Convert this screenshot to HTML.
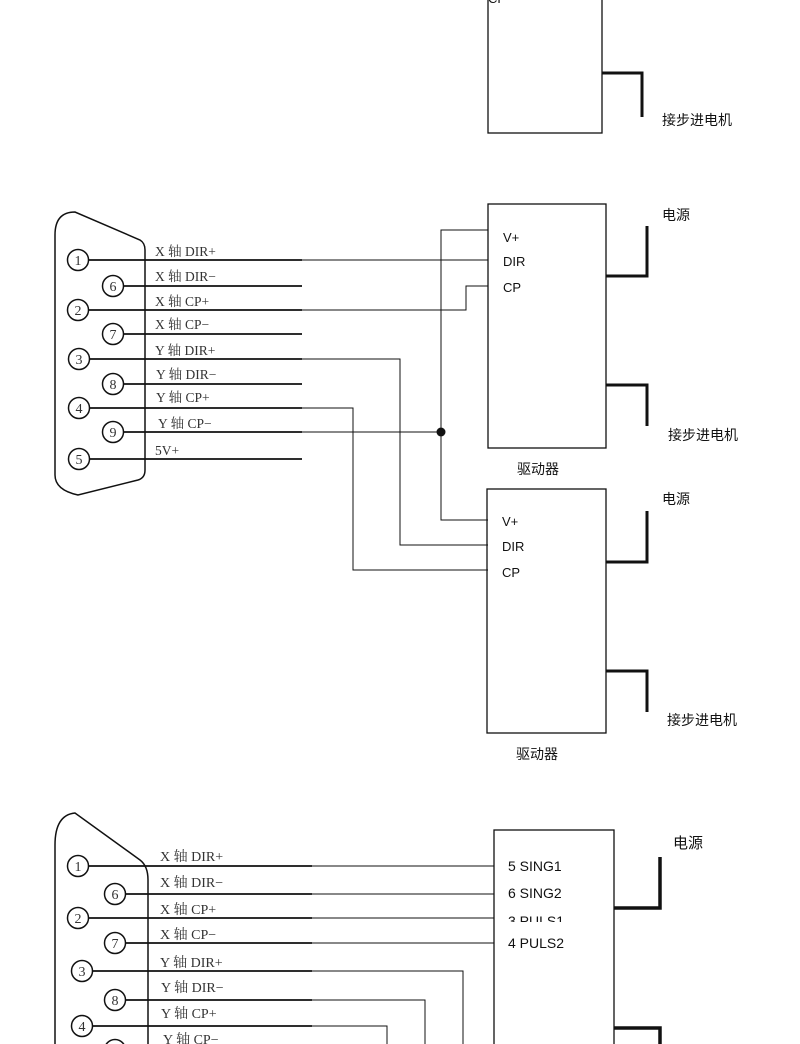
<!DOCTYPE html>
<html><head><meta charset="utf-8"><style>
html,body{margin:0;padding:0;background:#fff;width:800px;height:1044px;overflow:hidden}
svg text{font-family:"Liberation Serif","Noto Serif CJK SC",serif;fill:#333}
.s{font-family:"Liberation Sans","Noto Sans CJK SC",sans-serif!important;fill:#111}
</style></head><body>
<svg width="800" height="1044" viewBox="0 0 800 1044" xmlns="http://www.w3.org/2000/svg">
<g fill="none" stroke="#111">
<rect x="488" y="-5" width="114" height="138" stroke-width="1.3"/>
<polyline points="602,73 642,73 642,117" stroke-width="3"/>
</g>
<text x="488" y="3" class="s" font-size="13">CP</text>
<text x="662" y="125" class="s" font-size="14" fill="#444">接步进电机</text>

<g fill="none" stroke="#111">
<path d="M55,235 Q55,212 75,212 L140,240 Q145,243 145,250 L145,470 Q145,478 138,480 L78,495 Q55,490 55,475 Z" stroke-width="1.5"/>
<g stroke-width="1.5">
<circle cx="78" cy="260" r="10.5"/><circle cx="113" cy="286" r="10.5"/>
<circle cx="78" cy="310" r="10.5"/><circle cx="113" cy="334" r="10.5"/>
<circle cx="79" cy="359" r="10.5"/><circle cx="113" cy="384" r="10.5"/>
<circle cx="79" cy="408" r="10.5"/><circle cx="113" cy="432" r="10.5"/>
<circle cx="79" cy="459" r="10.5"/>
</g>
<g stroke-width="1.8">
<line x1="88" y1="260" x2="302" y2="260"/><line x1="123" y1="286" x2="302" y2="286"/>
<line x1="88" y1="310" x2="302" y2="310"/><line x1="123" y1="334" x2="302" y2="334"/>
<line x1="89" y1="359" x2="302" y2="359"/><line x1="123" y1="384" x2="302" y2="384"/>
<line x1="89" y1="408" x2="302" y2="408"/><line x1="123" y1="432" x2="302" y2="432"/>
<line x1="89" y1="459" x2="302" y2="459"/>
</g>
<g stroke-width="1">
<line x1="302" y1="260" x2="488" y2="260"/>
<polyline points="302,310 466,310 466,286 488,286"/>
<polyline points="302,432 441,432"/>
<polyline points="488,230 441,230 441,520 488,520"/>
<polyline points="302,359 400,359 400,545 488,545"/>
<polyline points="302,408 353,408 353,570 488,570"/>
</g>
<rect x="488" y="204" width="118" height="244" stroke-width="1.3"/>
<rect x="487" y="489" width="119" height="244" stroke-width="1.3"/>
<g stroke-width="3">
<polyline points="647,226 647,276 606,276"/>
<polyline points="606,385 647,385 647,426"/>
<polyline points="647,511 647,562 606,562"/>
<polyline points="606,671 647,671 647,712"/>
</g>
</g>
<circle cx="441" cy="432" r="4.5" fill="#111"/>
<g font-size="14" text-anchor="middle">
<text x="78" y="265">1</text><text x="113" y="291">6</text><text x="78" y="315">2</text>
<text x="113" y="339">7</text><text x="79" y="364">3</text><text x="113" y="389">8</text>
<text x="79" y="413">4</text><text x="113" y="437">9</text><text x="79" y="464">5</text>
</g>
<g font-size="13.5">
<text x="155" y="256">X 轴 DIR+</text><text x="155" y="281">X 轴 DIR−</text>
<text x="155" y="306">X 轴 CP+</text><text x="155" y="329">X 轴 CP−</text>
<text x="155" y="355">Y 轴 DIR+</text><text x="156" y="379">Y 轴 DIR−</text>
<text x="156" y="402">Y 轴 CP+</text><text x="158" y="428">Y 轴 CP−</text>
<text x="155" y="455">5V+</text>
</g>
<g font-size="13">
<text x="503" y="242" class="s">V+</text><text x="503" y="266" class="s">DIR</text><text x="503" y="292" class="s">CP</text>
<text x="502" y="526" class="s">V+</text><text x="502" y="551" class="s">DIR</text><text x="502" y="577" class="s">CP</text>
</g>
<g font-size="14">
<text x="662" y="220" class="s" fill="#333">电源</text>
<text x="668" y="440" class="s" fill="#333">接步进电机</text>
<text x="517" y="474" class="s" fill="#333">驱动器</text>
<text x="662" y="504" class="s" fill="#333">电源</text>
<text x="667" y="725" class="s" fill="#333">接步进电机</text>
<text x="516" y="759" class="s" fill="#333">驱动器</text>
</g>

<g fill="none" stroke="#111">
<path d="M55,845 Q55,815 75,813 L140,860 Q148,866 148,880 L148,1050 M55,845 L55,1050" stroke-width="1.5"/>
<g stroke-width="1.5">
<circle cx="78" cy="866" r="10.5"/><circle cx="115" cy="894" r="10.5"/>
<circle cx="78" cy="918" r="10.5"/><circle cx="115" cy="943" r="10.5"/>
<circle cx="82" cy="971" r="10.5"/><circle cx="115" cy="1000" r="10.5"/>
<circle cx="82" cy="1026" r="10.5"/><circle cx="115" cy="1050" r="10.5"/>
</g>
<g stroke-width="1.8">
<line x1="88" y1="866" x2="312" y2="866"/><line x1="125" y1="894" x2="312" y2="894"/>
<line x1="88" y1="918" x2="312" y2="918"/><line x1="125" y1="943" x2="312" y2="943"/>
<line x1="92" y1="971" x2="312" y2="971"/><line x1="125" y1="1000" x2="312" y2="1000"/>
<line x1="92" y1="1026" x2="312" y2="1026"/>
</g>
<g stroke-width="1">
<line x1="312" y1="866" x2="494" y2="866"/><line x1="312" y1="894" x2="494" y2="894"/>
<line x1="312" y1="918" x2="494" y2="918"/><line x1="312" y1="943" x2="494" y2="943"/>
<polyline points="312,971 463,971 463,1050"/>
<polyline points="312,1000 425,1000 425,1050"/>
<polyline points="312,1026 387,1026 387,1050"/>
</g>
<rect x="494" y="830" width="120" height="230" stroke-width="1.3"/>
<g stroke-width="3.5">
<polyline points="660,857 660,908 614,908"/>
<polyline points="614,1028 660,1028 660,1050"/>
</g>
</g>
<g font-size="14" text-anchor="middle">
<text x="78" y="871">1</text><text x="115" y="899">6</text><text x="78" y="923">2</text>
<text x="115" y="948">7</text><text x="82" y="976">3</text><text x="115" y="1005">8</text>
<text x="82" y="1031">4</text>
</g>
<g font-size="14">
<text x="160" y="861">X 轴 DIR+</text><text x="160" y="887">X 轴 DIR−</text>
<text x="160" y="914">X 轴 CP+</text><text x="160" y="939">X 轴 CP−</text>
<text x="160" y="967">Y 轴 DIR+</text><text x="161" y="992">Y 轴 DIR−</text>
<text x="161" y="1018">Y 轴 CP+</text><text x="163" y="1044">Y 轴 CP−</text>
</g>
<g font-size="14">
<text x="508" y="871" class="s">5 SING1</text><text x="508" y="898" class="s">6 SING2</text>
<text x="508" y="926" class="s">3 PULS1</text><text x="508" y="948" class="s">4 PULS2</text>
<text x="673" y="848" class="s" fill="#333" font-size="15">电源</text>
</g>
<rect x="500" y="922" width="100" height="6" fill="#fff"/>
</svg>
</body></html>
